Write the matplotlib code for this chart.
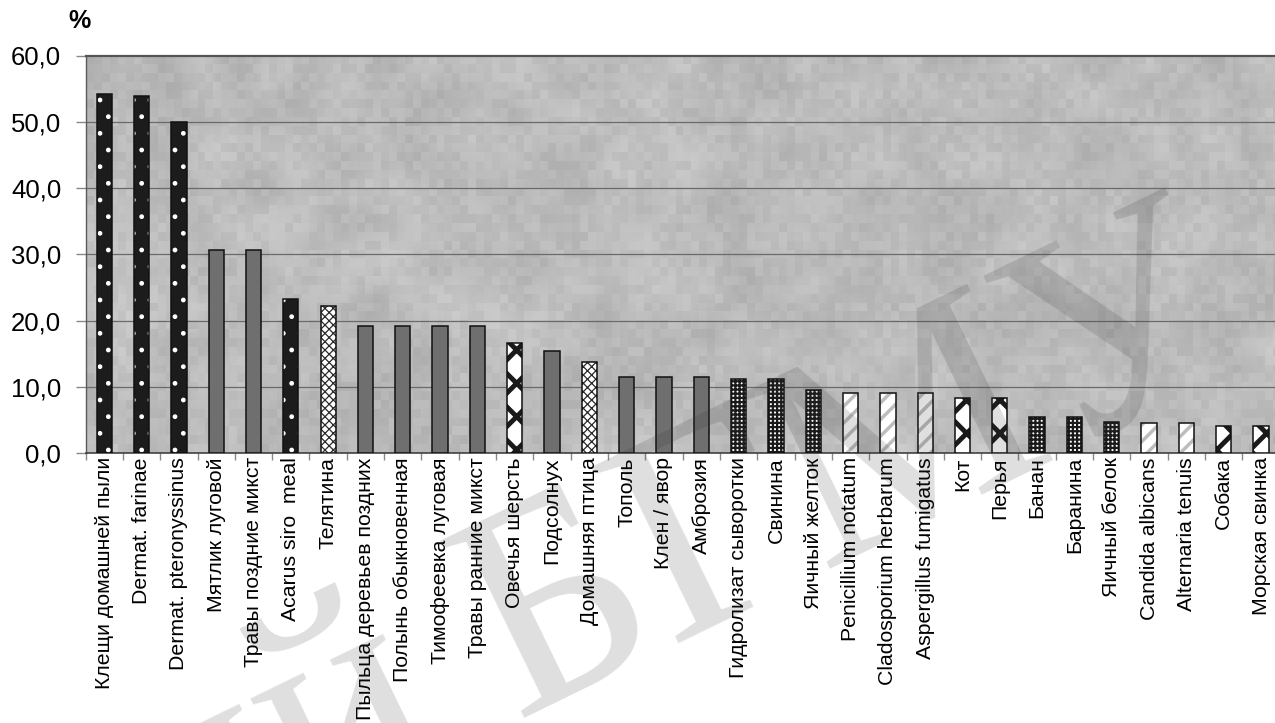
import numpy as np
import matplotlib
matplotlib.use("Agg")
import matplotlib.pyplot as plt
from matplotlib.ticker import FixedLocator, FuncFormatter

plt.rcParams['font.family'] = ['Liberation Sans', 'DejaVu Sans']

# Allergens and share of positive reactions, %
allergens = [
    "Клещи домашней пыли", "Dermat. farinae", "Dermat. pteronyssinus",
    "Мятлик луговой", "Травы поздние микст", "Acarus siro  meal", "Телятина",
    "Пыльца деревьев поздних", "Полынь обыкновенная", "Тимофеевка луговая",
    "Травы ранние микст", "Овечья шерсть", "Подсолнух", "Домашняя птица",
    "Тополь", "Клен / явор", "Амброзия", "Гидролизат сыворотки", "Свинина",
    "Яичный желток", "Penicillium notatum", "Cladosporium herbarum",
    "Aspergillus fumigatus", "Кот", "Перья", "Банан", "Баранина",
    "Яичный белок", "Candida albicans", "Alternaria tenuis", "Собака",
    "Морская свинка",
]
percent = [
    54.2, 53.9, 50.0, 30.6, 30.6, 23.2, 22.2, 19.2, 19.2, 19.2, 19.2,
    16.6, 15.4, 13.7, 11.5, 11.5, 11.5, 11.1, 11.1, 9.5, 9.1, 9.1, 9.1,
    8.3, 8.3, 5.5, 5.5, 4.7, 4.5, 4.5, 4.1, 4.1,
]
# Allergen group: mites, pollen, food, epidermal, moulds
group = [
    "mite", "mite", "mite", "pollen", "pollen", "mite", "food",
    "pollen", "pollen", "pollen", "pollen", "epid", "pollen", "food",
    "pollen", "pollen", "pollen", "food2", "food2", "food2", "mould", "mould",
    "mould", "epid", "epid", "food2", "food2", "food2", "mould", "mould",
    "epid", "epid",
]
y_ticks = [0, 10, 20, 30, 40, 50, 60]

# fill style for each group: face, hatch, hatch colour, hatch width
styles = {
    "mite":   ("#1c1c1c", ".",    "#ffffff", 1.0),
    "pollen": ("#6f6f6f", None,   None,      1.0),
    "food":   ("#ffffff", "xxxx", "#2a2a2a", 0.9),
    "food2":  ("#ffffff", "++++", "#1a1a1a", 1.6),
    "epid":   ("#ffffff", "x",    "#1a1a1a", 3.5),
    "mould":  ("#ffffff", "//",   "#bdbdbd", 2.5),
}

W, H = 1275, 723
fig = plt.figure(figsize=(W / 100, H / 100), dpi=100)
left_px, right_px, top_px, bot_px = 85.6, 1279.7, 55.5, 453.0
ax = fig.add_axes([left_px / W, 1 - bot_px / H,
                   (right_px - left_px) / W, (bot_px - top_px) / H])

n = len(allergens)
x = np.arange(n)
ax.set_xlim(-0.5, n - 0.5)
ax.set_ylim(0, 60)

# mottled grey plot-area background
rng = np.random.default_rng(11)
coarse = rng.random((16, 56))
fine = rng.random((45, 150))
ext = [-0.5, n - 0.5, 0, 60]
ax.imshow(coarse, extent=ext, aspect="auto", cmap="gray", vmin=-4.9, vmax=2.5,
          interpolation="bicubic", zorder=0)
ax.imshow(fine, extent=ext, aspect="auto", cmap="gray", vmin=-2.8, vmax=1.5,
          interpolation="nearest", alpha=0.22, zorder=0.1)

for yv in y_ticks[1:-1]:
    ax.axhline(yv, color="#6a6a6a", lw=0.9, zorder=1)

bw = 0.41
for xi, val, g in zip(x, percent, group):
    face, hatch, hcol, hlw = styles[g]
    with plt.rc_context({"hatch.linewidth": hlw}):
        fill = ax.bar(xi, val, width=bw, color=face, edgecolor=hcol if hatch else face,
                      hatch=hatch, linewidth=0, zorder=3)
    for p in fill:
        if hasattr(p, "set_hatch_linewidth"):
            p.set_hatch_linewidth(hlw)
    ax.bar(xi, val, width=bw, facecolor="none", edgecolor="#111111",
           linewidth=1.1, zorder=4)

# axes frame
ax.spines["right"].set_visible(False)
ax.spines["top"].set_color("#555555")
ax.spines["top"].set_linewidth(1.6)
ax.spines["left"].set_color("#5a5a5a")
ax.spines["left"].set_linewidth(1.0)
ax.spines["bottom"].set_color("#333333")
ax.spines["bottom"].set_linewidth(1.1)

ax.set_yticks(y_ticks)
ax.yaxis.set_major_formatter(FuncFormatter(lambda v, _: f"{v:.1f}".replace(".", ",")))
ax.tick_params(axis="y", length=7, width=1, color="#888888", pad=10.5,
               labelsize=18.5, labelcolor="#000000")

ax.set_xticks(x)
ax.set_xticklabels(allergens, rotation=90, fontsize=15.3, va="top", ha="center")
ax.tick_params(axis="x", which="major", length=0, pad=3)
ax.xaxis.set_minor_locator(FixedLocator(np.arange(n + 1) - 0.5))
ax.tick_params(axis="x", which="minor", length=5, width=1, color="#888888")

fig.text(79.5 / W, 1 - 21 / H, "%", ha="center", va="center",
         fontsize=18, fontweight="bold")

# repository stamp across the figure
fig.text(0.53, 0.22, "ий БГМУ", rotation=26, ha="center", va="center",
         fontsize=215, family=["Liberation Serif", "DejaVu Serif"],
         color="#333333", alpha=0.16, zorder=10)

fig.savefig("out.png", dpi=100)
